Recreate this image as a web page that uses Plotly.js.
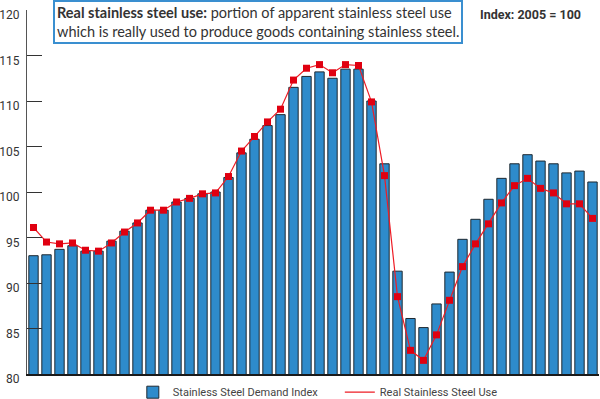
<!DOCTYPE html>
<html>
<head>
<meta charset="utf-8">
<script src="https://cdn.plot.ly/plotly-3.0.1.min.js"></script>
<style>
  html, body { margin: 0; padding: 0; background: #fff; }
  #chart { width: 600px; height: 399px; }
</style>
</head>
<body>
<div id="chart"></div>
<script>
// Quarterly periods (tick labels hidden in the reference)
const periods = [
  "2002 Q1","2002 Q2","2002 Q3","2002 Q4",
  "2003 Q1","2003 Q2","2003 Q3","2003 Q4",
  "2004 Q1","2004 Q2","2004 Q3","2004 Q4",
  "2005 Q1","2005 Q2","2005 Q3","2005 Q4",
  "2006 Q1","2006 Q2","2006 Q3","2006 Q4",
  "2007 Q1","2007 Q2","2007 Q3","2007 Q4",
  "2008 Q1","2008 Q2","2008 Q3","2008 Q4",
  "2009 Q1","2009 Q2","2009 Q3","2009 Q4",
  "2010 Q1","2010 Q2","2010 Q3","2010 Q4",
  "2011 Q1","2011 Q2","2011 Q3","2011 Q4",
  "2012 Q1","2012 Q2","2012 Q3","2012 Q4"
];

// Stainless Steel Demand Index (bars)
const demandIndex = [
  93.0, 93.1, 93.7, 94.1, 93.5, 93.5, 94.6, 95.7, 96.6, 98.0, 98.0, 98.9,
  99.3, 99.8, 100.0, 101.6, 104.3, 105.8, 107.3, 108.5, 111.5, 112.7, 113.2, 112.5,
  113.5, 113.5, 110.0, 103.1, 91.3, 86.1, 85.1, 87.7, 91.2, 94.8, 97.0, 99.2,
  101.5, 103.1, 104.1, 103.4, 103.1, 102.1, 102.3, 101.1
];

// Real Stainless Steel Use (line)
const realUse = [
  96.1, 94.5, 94.3, 94.4, 93.6, 93.5, 94.4, 95.6, 96.6, 98.0, 98.0, 98.9,
  99.3, 99.8, 99.9, 101.7, 104.5, 106.1, 107.7, 109.1, 112.3, 113.6, 114.0, 113.1,
  114.0, 113.9, 109.9, 101.8, 88.5, 82.6, 81.5, 84.3, 88.1, 91.8, 94.3, 96.5,
  98.8, 100.7, 101.5, 100.4, 99.9, 98.7, 98.7, 97.1
];

const yTicks = [80, 85, 90, 95, 100, 105, 110, 115, 120];

const traces = [
  {
    type: "bar",
    name: "Stainless Steel Demand Index",
    x: periods,
    y: demandIndex,
    marker: { color: "#2e8bcb", line: { color: "#1e2830", width: 1 } }
  },
  {
    type: "scatter",
    mode: "lines",
    name: "Real Stainless Steel Use",
    x: periods,
    y: realUse,
    line: { color: "#ee1c25", width: 1.2 }
  },
  {
    type: "scatter",
    mode: "markers",
    name: "Real Stainless Steel Use",
    showlegend: false,
    x: periods,
    y: realUse,
    marker: { symbol: "square", size: 7, color: "#e00010" }
  }
];

const layout = {
  width: 600,
  height: 399,
  margin: { l: 27, r: 1, t: 10, b: 25, autoexpand: false },
  paper_bgcolor: "#ffffff",
  plot_bgcolor: "#ffffff",
  bargap: 0.28,
  showlegend: true,
  font: { family: "Roboto, Arial, sans-serif", color: "#333" },
  xaxis: {
    type: "category",
    range: [-0.5, periods.length - 0.5],
    showticklabels: false,
    ticks: "",
    showgrid: false,
    zeroline: false,
    showline: true,
    linecolor: "#1a1a1a",
    linewidth: 2,
    fixedrange: true
  },
  yaxis: {
    range: [80, 120],
    tickvals: yTicks,
    ticktext: yTicks.map(String),
    ticks: "inside",
    ticklen: 15,
    tickwidth: 1,
    tickcolor: "#333",
    showline: true,
    linecolor: "#555",
    linewidth: 1,
    showgrid: false,
    zeroline: false,
    ticklabelshift: 5,
    ticklabelstandoff: 4,
    ticklabeloverflow: "allow",
    tickfont: { family: "Roboto, Arial, sans-serif", size: 12, color: "#333" },
    fixedrange: true
  },
  legend: {
    orientation: "h",
    x: 0.185,
    xanchor: "left",
    y: -0.05,
    yanchor: "middle",
    font: { family: "Roboto, Arial, sans-serif", size: 11, color: "#444" },
    itemwidth: 30,
    entrywidth: 162,
    traceorder: "normal",
    bgcolor: "rgba(0,0,0,0)"
  },
  annotations: [
    {
      xref: "paper", yref: "paper",
      x: (53 - 27) / 572, xanchor: "left",
      y: (374 - 0) / 364, yanchor: "top",
      align: "left",
      showarrow: false,
      text: "<b>Real stainless steel use:</b> portion of apparent stainless steel use<br>which is really used to produce goods containing stainless steel.",
      font: { family: "Lato, 'Open Sans', sans-serif", size: 14.5, color: "#333" },
      bordercolor: "#3a8fd0",
      borderwidth: 2,
      borderpad: 2,
      bgcolor: "#ffffff"
    },
    {
      xref: "paper", yref: "paper",
      x: (478 - 27) / 572, xanchor: "left",
      y: (374 - 15) / 364, yanchor: "middle",
      showarrow: false,
      text: "<b>Index: 2005 = 100</b>",
      font: { family: "Roboto, Arial, sans-serif", size: 12.5, color: "#333" }
    }
  ]
};

Plotly.newPlot("chart", traces, layout, { displayModeBar: false, staticPlot: true });
</script>
</body>
</html>
